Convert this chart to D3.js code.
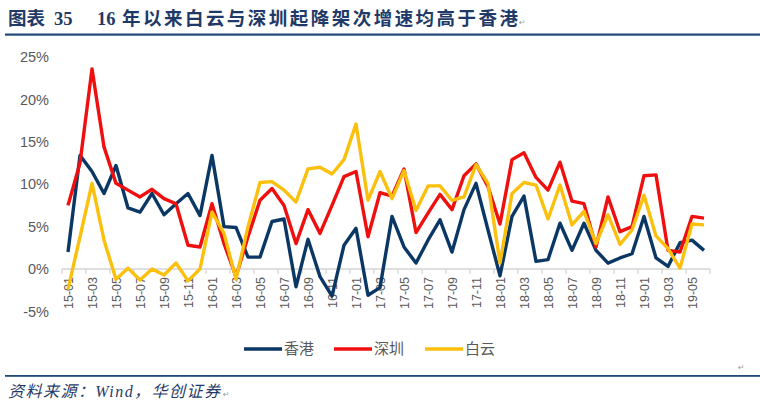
<!DOCTYPE html>
<html>
<head>
<meta charset="utf-8">
<script src="https://cdn.jsdelivr.net/npm/d3@7/dist/d3.min.js"></script>
<style>
  html, body { margin: 0; padding: 0; background: #ffffff; }
  svg { display: block; }
</style>
</head>
<body>
<svg id="chart" width="760" height="407"></svg>
<script>
// ---- data ----
const years = ["15", "16", "17", "18", "19"];
const months = [];
years.forEach(y => { for (let m = 1; m <= 12; m++) { if (y === "19" && m > 6) break; months.push(y + "-" + String(m).padStart(2, "0")); } });

const seriesNames = ["香港", "深圳", "白云"];
const hongkong = [2.0,13.4,11.5,8.9,12.2,7.2,6.7,8.9,6.4,7.7,8.9,6.3,13.4,5.0,4.9,1.4,1.4,5.6,5.9,-2.1,3.5,-0.9,-3.2,2.8,4.8,-3.1,-2.2,6.2,2.6,0.7,3.4,5.8,2.0,7.0,10.1,4.6,-0.8,6.2,8.6,0.9,1.1,5.4,2.2,5.4,2.2,0.7,1.3,1.8,6.2,1.3,0.3,3.1,3.4,2.2];
const shenzhen = [7.5,12.5,23.6,14.4,10.1,9.3,8.5,9.4,8.3,7.7,2.8,2.6,7.7,3.0,-0.9,3.8,8.1,9.5,7.5,3.0,7.0,4.2,7.5,10.9,11.5,3.8,9.0,8.6,11.8,4.3,6.6,8.8,7.0,11.0,12.4,9.7,5.3,12.9,13.7,10.8,9.3,12.6,8.0,7.7,2.6,8.5,4.4,5.0,11.0,11.1,2.2,2.0,6.2,6.0];
const baiyun = [-2.4,3.8,10.1,3.4,-1.2,0.1,-1.3,0.0,-0.7,0.7,-1.4,0.0,6.7,4.2,-1.2,5.0,10.2,10.3,9.3,7.9,11.8,12.0,11.2,12.9,17.1,8.1,11.5,8.3,11.6,6.9,9.8,9.8,8.1,8.5,12.3,10.1,0.7,8.9,10.2,9.9,5.9,9.9,5.2,6.8,3.0,6.4,2.9,4.6,8.7,3.9,2.4,0.1,5.3,5.2];
const yTicks = [-5, 0, 5, 10, 15, 20, 25];
const colors = ["#0b3765", "#f00f0f", "#fbc00d"];

const titleParts = ["图表", "35", "16", "年以来白云与深圳起降架次增速均高于香港"];
const sourceText = "资料来源：Wind，华创证券";

// ---- layout ----
const svg = d3.select("#chart");
const plotLeft = 62, plotRight = 710, plotTop = 57, plotBottom = 311.4;

const x = d3.scaleBand().domain(months).range([plotLeft, plotRight]).padding(0);
const y = d3.scaleLinear().domain([-5, 25]).range([plotBottom, plotTop]);
const cx = m => x(m) + x.bandwidth() / 2;

// title
const titleX = [8, 54, 97, 122];
const titleG = svg.append("g")
  .attr("font-family", "'Liberation Serif', 'Noto Sans CJK SC', serif")
  .attr("font-weight", "bold")
  .attr("font-size", 18.5)
  .attr("fill", "#1f3a68");
titleParts.forEach((t, i) => {
  const el = titleG.append("text").attr("x", titleX[i]).attr("y", 25).text(t);
  if (i === 3) el.attr("textLength", 396).attr("lengthAdjust", "spacing");
});
svg.append("text")
  .attr("x", 519).attr("y", 25)
  .attr("font-family", "'DejaVu Sans', sans-serif")
  .attr("font-size", 8).attr("fill", "#999")
  .text("↵");
svg.append("rect").attr("x", 5).attr("y", 33.5).attr("width", 755).attr("height", 2.2).attr("fill", "#1f4a78");

// y axis labels
const yAxis = d3.axisLeft(y).tickValues(yTicks).tickSize(0).tickPadding(13).tickFormat(d => d + "%");
const gy = svg.append("g").attr("transform", `translate(${plotLeft},0)`).call(yAxis);
gy.select(".domain").remove();
gy.selectAll("text")
  .attr("font-family", "'Liberation Sans', Arial, sans-serif")
  .attr("font-size", 14.5)
  .attr("fill", "#595959");

// zero baseline + ticks
svg.append("line")
  .attr("x1", plotLeft).attr("x2", plotRight)
  .attr("y1", y(0)).attr("y2", y(0))
  .attr("stroke", "#d4d4d4").attr("stroke-width", 1.5);
const tickMonths = months.filter((m, i) => i % 2 === 0);
svg.append("g").selectAll("line").data(tickMonths).join("line")
  .attr("x1", d => x(d)).attr("x2", d => x(d))
  .attr("y1", y(0)).attr("y2", y(0) + 5)
  .attr("stroke", "#d4d4d4").attr("stroke-width", 1.2);
svg.append("line")
  .attr("x1", plotRight).attr("x2", plotRight)
  .attr("y1", y(0)).attr("y2", y(0) + 5)
  .attr("stroke", "#d4d4d4").attr("stroke-width", 1.2);

// x labels
svg.append("g").selectAll("text").data(tickMonths).join("text")
  .attr("transform", d => `translate(${cx(d) + 4.5},${y(0) + 8}) rotate(-90)`)
  .attr("text-anchor", "end")
  .attr("font-family", "'Liberation Sans', Arial, sans-serif")
  .attr("font-size", 12.5)
  .attr("fill", "#595959")
  .text(d => d);

// lines
const allSeries = [hongkong, shenzhen, baiyun];
const lineGen = d3.line().x((d, i) => cx(months[i])).y(d => y(d));
[0, 1, 2].forEach(k => {
  svg.append("path")
    .datum(allSeries[k])
    .attr("d", lineGen)
    .attr("fill", "none")
    .attr("stroke", colors[k])
    .attr("stroke-width", 3.4)
    .attr("stroke-linejoin", "round");
});

// legend
const legendX = [244, 334, 425];
const lg = svg.append("g");
seriesNames.forEach((n, k) => {
  lg.append("line")
    .attr("x1", legendX[k]).attr("x2", legendX[k] + 38)
    .attr("y1", 349).attr("y2", 349)
    .attr("stroke", colors[k]).attr("stroke-width", 3.4);
  lg.append("text")
    .attr("x", legendX[k] + 40).attr("y", 354)
    .attr("font-family", "'Noto Sans CJK SC', sans-serif")
    .attr("font-size", 15)
    .attr("fill", "#595959")
    .text(n);
});

// bottom rule + source
svg.append("text")
  .attr("x", 738).attr("y", 370)
  .attr("font-family", "'DejaVu Sans', sans-serif")
  .attr("font-size", 8).attr("fill", "#999")
  .text("↵");
svg.append("rect").attr("x", 5).attr("y", 375).attr("width", 755).attr("height", 1.8).attr("fill", "#1f4a78");
svg.append("text")
  .attr("x", 8).attr("y", 397)
  .attr("font-family", "'Liberation Serif', 'Noto Sans CJK SC', serif")
  .attr("font-style", "italic")
  .attr("font-size", 16)
  .attr("textLength", 212)
  .attr("lengthAdjust", "spacing")
  .attr("fill", "#1f3a68")
  .text(sourceText);
svg.append("text")
  .attr("x", 223).attr("y", 397)
  .attr("font-family", "'DejaVu Sans', sans-serif")
  .attr("font-size", 8).attr("fill", "#999")
  .text("↵");
</script>
</body>
</html>
